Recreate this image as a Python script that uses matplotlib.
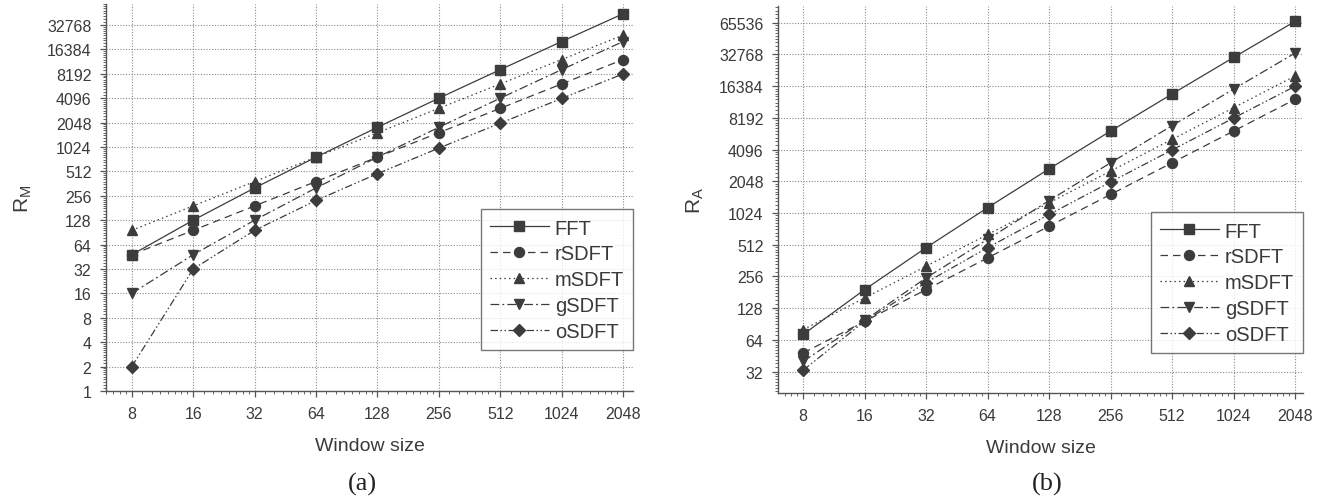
import numpy as np
import matplotlib
matplotlib.use("Agg")
import matplotlib.pyplot as plt
from matplotlib.ticker import FixedLocator, FuncFormatter, LogLocator, NullFormatter

plt.rcParams['font.family'] = ['Liberation Sans', 'DejaVu Sans']
plt.rcParams['mathtext.default'] = 'regular'

# ---- data ----
window = [8, 16, 32, 64, 128, 256, 512, 1024, 2048]
labels = ["FFT", "rSDFT", "mSDFT", "gSDFT", "oSDFT"]

rm_fft = [48, 128, 320, 768, 1792, 4096, 9216, 20480, 45056]
rm_rsdft = [48, 96, 192, 384, 768, 1536, 3072, 6144, 12288]
rm_msdft = [96, 192, 384, 768, 1536, 3072, 6144, 12288, 24576]
rm_gsdft = [16, 48, 128, 320, 768, 1792, 4096, 9216, 20480]
rm_osdft = [2, 32, 96, 224, 480, 992, 2016, 4064, 8160]

ra_fft = [72, 192, 480, 1152, 2688, 6144, 13824, 30720, 67584]
ra_rsdft = [48, 96, 192, 384, 768, 1536, 3072, 6144, 12288]
ra_msdft = [80, 160, 320, 640, 1280, 2560, 5120, 10240, 20480]
ra_gsdft = [40, 98, 248, 576, 1344, 3072, 6912, 15360, 33792]
ra_osdft = [33, 96, 224, 480, 992, 2016, 4064, 8160, 16352]

yticks_m = [1, 2, 4, 8, 16, 32, 64, 128, 256, 512, 1024, 2048, 4096, 8192, 16384, 32768]
yticks_a = [32, 64, 128, 256, 512, 1024, 2048, 4096, 8192, 16384, 32768, 65536]

# ---- styles ----
ink = '#3c3c3c'
styles = [
    dict(linestyle='-', marker='s'),
    dict(linestyle=(0, (6, 4)), marker='o'),
    dict(linestyle=(0, (1.2, 2.5)), marker='^'),
    dict(linestyle=(0, (7, 2.5, 1.5, 2.5)), marker='v'),
    dict(linestyle=(0, (6, 2, 1.2, 2, 1.2, 2)), marker='D'),
]

fig = plt.figure(figsize=(13.32, 5.02), dpi=100)
W, H = 1332, 502


def make_axes(rect_px, xlim, ylim, yticks, series, ylabel, legend_bottom, panel, panel_x):
    x0, y0, x1, y1 = rect_px
    ax = fig.add_axes([x0 / W, 1 - y1 / H, (x1 - x0) / W, (y1 - y0) / H])
    for vals, lab, st in zip(series, labels, styles):
        ms = 7.2 if st['marker'] != 'D' else 6.3
        ax.plot(window, vals, color=ink, lw=0.9, markersize=ms,
                markerfacecolor=ink, markeredgecolor=ink, label=lab, **st)
    ax.set_xscale('log', base=2)
    ax.set_yscale('log', base=2)
    ax.set_xlim(*xlim)
    ax.set_ylim(*ylim)
    ax.xaxis.set_major_locator(FixedLocator(window))
    ax.yaxis.set_major_locator(FixedLocator(yticks))
    fmt = FuncFormatter(lambda v, p: f"{int(round(v))}")
    ax.xaxis.set_major_formatter(fmt)
    ax.yaxis.set_major_formatter(fmt)
    subs = np.arange(9, 16) / 8.0
    ax.xaxis.set_minor_locator(LogLocator(base=2, subs=subs, numticks=200))
    ax.yaxis.set_minor_locator(LogLocator(base=2, subs=np.arange(11, 20) / 10.0, numticks=200))
    ax.xaxis.set_minor_formatter(NullFormatter())
    ax.yaxis.set_minor_formatter(NullFormatter())
    for s in ['top', 'right']:
        ax.spines[s].set_visible(False)
    for s in ['left', 'bottom']:
        ax.spines[s].set_color('#555555')
        ax.spines[s].set_linewidth(1.0)
    ax.tick_params(which='major', direction='out', length=4.5, width=0.9,
                   colors='#555555', labelcolor='#3a3a3a', labelsize=11.5, pad=6)
    ax.tick_params(which='minor', direction='out', length=2.5, width=0.7, colors='#666666')
    ax.grid(True, which='major', linestyle=(0, (1, 1.5)), color='#8a8a8a', linewidth=0.8)
    ax.set_axisbelow(True)
    ax.set_xlabel('Window size', fontsize=14, color='#3a3a3a', labelpad=12)
    ax.set_ylabel(ylabel, fontsize=15, color='#3a3a3a', labelpad=9)
    leg = ax.legend(loc='lower right', bbox_to_anchor=(1.0, legend_bottom),
                    borderaxespad=0, fontsize=14.5, frameon=True, fancybox=False,
                    edgecolor='#555555', handlelength=2.9, handletextpad=0.3,
                    labelspacing=0.34, borderpad=0.45, numpoints=1)
    leg.get_frame().set_linewidth(1.0)
    for t in leg.get_texts():
        t.set_color('#3a3a3a')
    fig.text(panel_x / W, 1 - 484 / H, panel, ha='center', va='center',
             fontsize=19, family='Liberation Serif', color='#222222')
    return ax


ax1 = make_axes((106, 5, 633, 392), (5.98, 2290), (1, 2 ** 15.86), yticks_m,
                [rm_fft, rm_rsdft, rm_msdft, rm_gsdft, rm_osdft],
                '$R_M$', (392 - 351) / 387, '(a)', 362)
ax2 = make_axes((778, 7, 1303, 394), (6.02, 2240), (20, 94600), yticks_a,
                [ra_fft, ra_rsdft, ra_msdft, ra_gsdft, ra_osdft],
                '$R_A$', (394 - 354) / 387, '(b)', 1047)

fig.savefig('out.png', dpi=100, facecolor='white')
